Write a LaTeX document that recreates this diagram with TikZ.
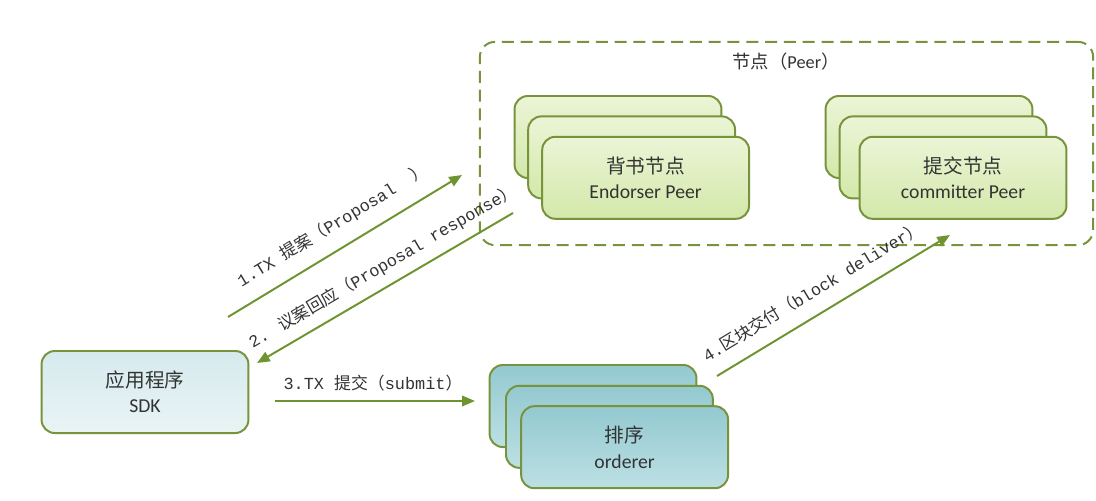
\documentclass[tikz,border=0pt]{standalone}
\usepackage{fontspec}
\setmainfont{Carlito}
\newfontfamily\cjk{Noto Sans CJK SC}
\newfontfamily\mono{Liberation Mono}
\usetikzlibrary{arrows.meta,positioning}

\definecolor{linegreen}{HTML}{77933C}
\definecolor{arrowgreen}{HTML}{6E9431}
\definecolor{peertop}{HTML}{EBF5D6}
\definecolor{peerbot}{HTML}{D3E8AA}
\definecolor{ordtop}{HTML}{93C9D0}
\definecolor{ordbot}{HTML}{BCE0E4}
\definecolor{sdktop}{HTML}{D6EAEE}
\definecolor{sdkbot}{HTML}{E9F4F4}
\definecolor{textgrey}{HTML}{333333}

\tikzstyle{card} = [draw=linegreen, line width=1.4pt, rounded corners=0.33cm, minimum width=5.17cm, minimum height=2.05cm, align=center, text=textgrey, font=\fontsize{14}{18}\selectfont]
\tikzstyle{peer} = [card, top color=peertop, bottom color=peerbot]
\tikzstyle{orderbox} = [card, top color=ordtop, bottom color=ordbot]
\tikzstyle{app} = [card, top color=sdktop, bottom color=sdkbot]
\tikzstyle{arrow} = [line width=1.4pt, arrowgreen, -{Triangle[length=0.32cm,width=0.26cm]}]
\tikzstyle{msg} = [sloped, inner sep=1pt, text=textgrey, font=\fontsize{12}{14}\selectfont\mono]

\begin{document}
\begin{tikzpicture}[x=0.025cm, y=-0.025cm, node distance=0.35cm]
\useasboundingbox (0,0) rectangle (1096,500);

% peer group
\node (0) [draw=linegreen, line width=1.4pt, dashed, dash pattern=on 0.3cm off 0.17cm, rounded corners=0.38cm, minimum width=15.33cm, minimum height=5.08cm] at (786.5,143.5) {};
\node (t) [text=textgrey, font=\fontsize{13}{15}\selectfont] at (786,62) {{\cjk 节点（}Peer{\cjk ）}};

% endorser peers
\node (2) [peer] at (618,137) {};
\node (3) [peer, right of=2, xshift=-0.01cm, yshift=-0.51cm] {};
\node (4) [peer, right of=3, yshift=-0.51cm] {{\cjk 背书节点}\\Endorser Peer};

% committer peers
\node (5) [peer] at (929,137) {};
\node (6) [peer, right of=5, yshift=-0.51cm] {};
\node (7) [peer, right of=6, xshift=0.15cm, yshift=-0.51cm] {{\cjk 提交节点}\\committer Peer};

% client
\node (1) [app] at (145,392) {{\cjk 应用程序}\\SDK};

% orderers
\node (8) [orderbox] at (593,406) {};
\node (9) [orderbox, right of=8, xshift=0.06cm, yshift=-0.52cm] {};
\node (10) [orderbox, right of=9, xshift=0.03cm, yshift=-0.51cm] {{\cjk 排序}\\orderer};

\coordinate (a1) at (228,317);
\coordinate (b1) at (462,175);
\coordinate (a2) at (513,213);
\coordinate (b2) at (257,363);
\coordinate (a3) at (275,401);
\coordinate (b3) at (475,401);
\coordinate (a4) at (717,376);
\coordinate (b4) at (950,235);

\draw [arrow] (a1) -- node[msg, above=9pt, pos=0.5] {1.TX {\cjk 提案（}Proposal\ \ {\cjk ）}} (b1);
\draw [arrow] (a2) -- node[msg, above=6pt, pos=0.47] {2. {\cjk 议案回应（}Proposal response{\cjk ）}} (b2);
\draw [arrow] (a3) -- node[msg, above=5pt, pos=0.49] {3.TX {\cjk 提交（}submit{\cjk ）}} (b3);
\draw [arrow] (a4) -- node[msg, above=9pt, pos=0.46] {4.{\cjk 区块交付（}block deliver{\cjk ）}} (b4);

\end{tikzpicture}
\end{document}
